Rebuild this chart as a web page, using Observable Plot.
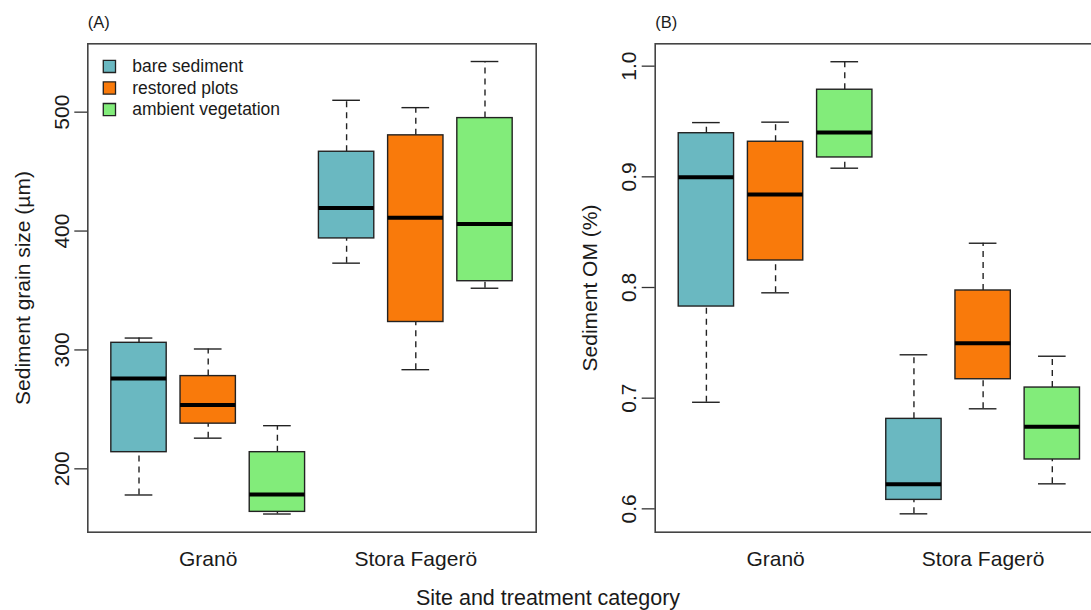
<!DOCTYPE html>
<html>
<head>
<meta charset="utf-8">
<script src="https://cdn.jsdelivr.net/npm/d3@7"></script>
<script src="https://cdn.jsdelivr.net/npm/@observablehq/plot@0.6"></script>
<style>
  html, body { margin: 0; padding: 0; background: white; overflow: hidden; }
  #wrap { position: relative; width: 1091px; height: 610px; overflow: hidden; background: white;
          font-family: "Liberation Sans", Arial, Helvetica, sans-serif; color: #1a1a1a; }
  #wrap > div.panel { position: absolute; top: 0; }
  #wrap svg { max-width: none !important; }
  #xtitle { position: absolute; left: 0; width: 1096px; top: 585px; text-align: center; font-size: 21.5px; line-height: 26px; }
</style>
</head>
<body>
<div id="wrap">
  <div class="panel" id="pa" style="left:0px; width:545px;"></div>
  <div class="panel" id="pb" style="left:545px; width:570px;"></div>
  <div id="xtitle">Site and treatment category</div>
</div>
<script>
// ---- categories ----
const sites = ["Granö", "Stora Fagerö"];
const treatments = ["bare sediment", "restored plots", "ambient vegetation"];
const colors = ["#6AB8C1", "#F97A0B", "#82EC7A"];

// ---- Panel A: sediment grain size (µm); order: Granö (bare, restored, ambient), Stora Fagerö (bare, restored, ambient)
const grainLo  = [178, 225.8, 162, 373, 283.4, 351.9];
const grainQ1  = [214, 238, 163.8, 393.8, 323.5, 357.8];
const grainMed = [276, 253.6, 178.5, 419.3, 411.1, 406];
const grainQ3  = [306, 278, 214, 466.7, 480.5, 495];
const grainHi  = [310, 300.8, 236.3, 510, 503.8, 542.6];
const grainTicks = [200, 300, 400, 500];

// ---- Panel B: sediment OM (%)
const omLo  = [0.6963, 0.7952, 0.9078, 0.5955, 0.6904, 0.6226];
const omQ1  = [0.7828, 0.8244, 0.9175, 0.6081, 0.7171, 0.6446];
const omMed = [0.8997, 0.884, 0.940, 0.6222, 0.7497, 0.6741];
const omQ3  = [0.9394, 0.9317, 0.9787, 0.6813, 0.7973, 0.7096];
const omHi  = [0.949, 0.9494, 1.004, 0.7392, 0.840, 0.7379];
const omTicks = [0.6, 0.7, 0.8, 0.9, 1.0];

const FONT = "'Liberation Sans', Arial, Helvetica, sans-serif";

function panel({lo, q1, med, q3, hi, yDomain, ticks, fmt, ylabel, tag, width, marginLeft, marginRight, legend}) {
  const rows = lo.map((_, i) => ({
    site: sites[Math.floor(i / 3)],
    treatment: treatments[i % 3],
    pos: i + 1,
    lo: lo[i], q1: q1[i], med: med[i], q3: q3[i], hi: hi[i]
  }));
  const height = 580, marginTop = 43.3, marginBottom = 48.3;
  const whisk = {stroke: "#222", strokeWidth: 1.4};
  const txt = {fill: "#1a1a1a", textAnchor: "middle", lineAnchor: "middle"};
  const marks = [
    // whiskers (dashed)
    Plot.ruleX(rows, {x: "pos", y1: "q3", y2: "hi", ...whisk, strokeDasharray: "6,5"}),
    Plot.ruleX(rows, {x: "pos", y1: "lo", y2: "q1", ...whisk, strokeDasharray: "6,5"}),
    // caps
    Plot.ruleY(rows, {y: "hi", x1: d => d.pos - 0.2, x2: d => d.pos + 0.2, ...whisk}),
    Plot.ruleY(rows, {y: "lo", x1: d => d.pos - 0.2, x2: d => d.pos + 0.2, ...whisk}),
    // boxes
    Plot.rect(rows, {x1: d => d.pos - 0.4, x2: d => d.pos + 0.4, y1: "q1", y2: "q3",
                     fill: "treatment", stroke: "#222", strokeWidth: 1.4}),
    // medians
    Plot.ruleY(rows, {y: "med", x1: d => d.pos - 0.4, x2: d => d.pos + 0.4, stroke: "#000", strokeWidth: 4}),
    // frame
    Plot.frame({stroke: "#444", strokeWidth: 1.6}),
    // y axis ticks (lines only)
    Plot.axisY({ticks, tickSize: 13, tickFormat: () => "", stroke: "#333", strokeWidth: 1.3}),
    // y tick labels
    Plot.text(ticks, {y: d => d, text: d => fmt(d), frameAnchor: "left", dx: -25.5, rotate: -90,
                      fontSize: 21, ...txt}),
    // y title
    Plot.text([ylabel], {frameAnchor: "left", dx: -64.7, rotate: -90, fontSize: 21, ...txt}),
    // x tick labels (site names at group centres)
    Plot.text(sites, {x: (d, i) => i * 3 + 2, text: d => d, frameAnchor: "bottom", dy: 27.5,
                      fontSize: 21, ...txt}),
    // panel tag
    Plot.text([tag], {frameAnchor: "top-left", dy: -21.3, dx: 0, fontSize: 16.5, ...txt, textAnchor: "start"})
  ];
  if (legend) {
    treatments.forEach((t, i) => {
      marks.push(Plot.dot([t], {frameAnchor: "top-left", dx: 21.6, dy: 22.6 + i * 21.6, symbol: "square",
                                r: 6.9, fill: colors[i], stroke: "#222", strokeWidth: 1.3}));
      marks.push(Plot.text([t], {frameAnchor: "top-left", dx: 44.4, dy: 22.6 + i * 21.6,
                                 fontSize: 17.5, ...txt, textAnchor: "start"}));
    });
  }
  return Plot.plot({
    width, height, marginLeft, marginRight, marginTop, marginBottom,
    style: {fontFamily: FONT, background: "white", overflow: "hidden", maxWidth: "none"},
    x: {type: "linear", domain: [0.26, 6.74], axis: null},
    y: {type: "linear", domain: yDomain, axis: null},
    color: {domain: treatments, range: colors},
    marks
  });
}

document.getElementById("pa").appendChild(panel({
  lo: grainLo, q1: grainQ1, med: grainMed, q3: grainQ3, hi: grainHi,
  yDomain: [146.7, 557.5], ticks: grainTicks, fmt: d => String(d),
  ylabel: "Sediment grain size (µm)", tag: "(A)",
  width: 545, marginLeft: 87.3, marginRight: 9.3, legend: true
}));

document.getElementById("pb").appendChild(panel({
  lo: omLo, q1: omQ1, med: omMed, q3: omQ3, hi: omHi,
  yDomain: [0.5789, 1.0202], ticks: omTicks, fmt: d3.format(".1f"),
  ylabel: "Sediment OM (%)", tag: "(B)",
  width: 570, marginLeft: 109.7, marginRight: 12, legend: false
}));
</script>
</body>
</html>
